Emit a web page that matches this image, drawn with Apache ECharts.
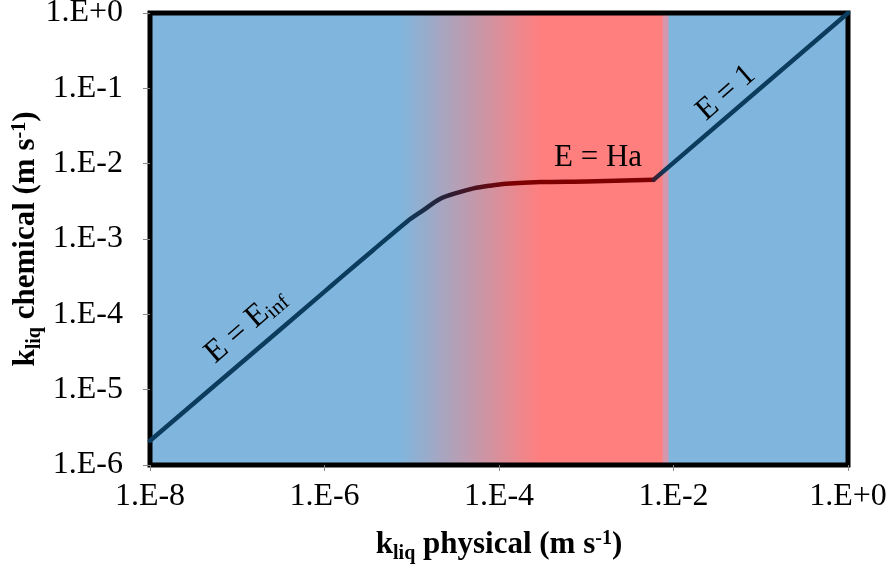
<!DOCTYPE html>
<html>
<head>
<meta charset="utf-8">
<script src="https://cdn.jsdelivr.net/npm/echarts@6/dist/echarts.min.js"></script>
<style>html,body{margin:0;padding:0;background:#fff}#c{width:888px;height:569px}</style>
</head>
<body>
<div id="c"></div>
<script>
// ---- data ----
const kPhysical = [1e-8, 1e-7, 1e-6, 1.5e-6, 3.6e-6, 8.8e-6, 1.35e-5, 2.1e-5, 3.3e-5, 5.1e-5, 7.9e-5, 1.2e-4, 3e-4, 1e-3, 5.9e-3, 1];
const kChemical = [2.1e-6, 2.05e-5, 2.0e-4, 3.0e-4, 7.1e-4, 1.7e-3, 2.4e-3, 3.4e-3, 4.1e-3, 4.7e-3, 5.1e-3, 5.4e-3, 5.7e-3, 5.8e-3, 6.1e-3, 1];
const cornerIndex = 14; // E = Ha plateau ends, E = 1 begins
const xTicks = ['1.E-8', '1.E-6', '1.E-4', '1.E-2', '1.E+0'];
const yTicks = ['1.E-6', '1.E-5', '1.E-4', '1.E-3', '1.E-2', '1.E-1', '1.E+0'];
const regionLabels = ['E = E', 'E = Ha', 'E = 1'];
// background regime boundaries (k_liq physical, m/s)
const blueEnd = 7.3e-6, redStart = 2.95e-4, redEnd = 7.2e-3, blueStart = 8.6e-3;

const X_MIN = 1e-8, X_MAX = 1, Y_MIN = 1e-6, Y_MAX = 1;
const L = Math.log10;
const fracIn = (v, a, b) => (L(v) - L(a)) / (L(b) - L(a));
const frac = v => fracIn(v, X_MIN, X_MAX);

const BLUE = '#80B6DD', RED = '#FF7F7F', NAVY = '#0b3c5e', MAROON = '#7f0000';
const serif = '"Liberation Serif", "Times New Roman", serif';

const bg = new echarts.graphic.LinearGradient(0, 0, 1, 0, [
  {offset: 0, color: BLUE},
  {offset: frac(blueEnd), color: BLUE},
  {offset: frac(redStart), color: RED},
  {offset: frac(redEnd), color: RED},
  {offset: frac(redEnd) + 0.0015, color: '#D497AE'},
  {offset: frac(blueStart) - 0.0015, color: '#D497AE'},
  {offset: frac(blueStart), color: BLUE},
  {offset: 1, color: BLUE}
]);
const xc = kPhysical[cornerIndex];
const gradA = new echarts.graphic.LinearGradient(0, 0, 1, 0, [
  {offset: 0, color: NAVY},
  {offset: fracIn(blueEnd, X_MIN, xc), color: NAVY},
  {offset: fracIn(2.6e-5, X_MIN, xc), color: '#2b1e33'},
  {offset: fracIn(1.4e-4, X_MIN, xc), color: MAROON},
  {offset: 1, color: MAROON}
]);
const gradB = new echarts.graphic.LinearGradient(0, 0, 1, 0, [
  {offset: 0, color: '#4a1525'},
  {offset: fracIn(blueStart, xc, X_MAX), color: NAVY},
  {offset: 1, color: NAVY}
]);

const fmt = v => {
  const e = Math.round(Math.log10(v));
  return e >= 0 ? '1.E+' + e : '1.E' + e;
};
const titleRich = {
  b: {fontFamily: serif, fontSize: 31, fontWeight: 'bold', color: '#000', lineHeight: 40},
  sub: {fontFamily: serif, fontSize: 20, fontWeight: 'bold', color: '#000', lineHeight: 40, padding: [18, 0, 0, 0]},
  sup: {fontFamily: serif, fontSize: 20, fontWeight: 'bold', color: '#000', lineHeight: 40, padding: [0, 0, 12, 0]}
};

const pairs = kPhysical.map((x, i) => [x, kChemical[i]]);
const chart = echarts.init(document.getElementById('c'), null, {renderer: 'canvas'});
chart.setOption({
  animation: false,
  grid: {left: 150, top: 13, width: 698, height: 452, containLabel: false, outerBoundsMode: 'none',
    show: true, backgroundColor: bg, borderColor: '#000', borderWidth: 5, z: 0},
  xAxis: {
    type: 'log', logBase: 10, min: X_MIN, max: X_MAX, interval: 2,
    axisLine: {show: false},
    axisTick: {show: true, length: 6, lineStyle: {color: '#888', width: 1}},
    splitLine: {show: false},
    axisLabel: {formatter: fmt, fontFamily: serif, fontSize: 32, color: '#000', margin: 16},
    name: '{b|k}{sub|liq}{b| physical (m s}{sup|-1}{b|)}',
    nameLocation: 'middle', nameGap: 60,
    nameTextStyle: {rich: titleRich}
  },
  yAxis: {
    type: 'log', logBase: 10, min: Y_MIN, max: Y_MAX, interval: 1,
    axisLine: {show: false},
    axisTick: {show: true, length: 7, lineStyle: {color: '#888', width: 1}},
    splitLine: {show: false},
    axisLabel: {formatter: fmt, fontFamily: serif, fontSize: 32, color: '#000', margin: 27},
    name: '{b|k}{sub|liq}{b| chemical (m s}{sup|-1}{b|)}',
    nameLocation: 'middle', nameGap: 104, nameRotate: 90, nameMoveOverlap: false,
    nameTextStyle: {rich: titleRich}
  },
  series: [{
    type: 'line',
    data: pairs.slice(0, cornerIndex + 1),
    showSymbol: false, symbol: 'none', smooth: 0.3,
    lineStyle: {width: 4.5, color: gradA, cap: 'round', join: 'round'},
    z: 3
  }, {
    type: 'line',
    data: pairs.slice(cornerIndex),
    showSymbol: false, symbol: 'none', smooth: false,
    lineStyle: {width: 4.5, color: gradB, cap: 'round', join: 'round'},
    z: 3
  }]
});

const ang = 41 * Math.PI / 180;
const txtStyle = {fontFamily: serif, fontSize: 31, fill: '#000'};
chart.setOption({
  graphic: [
    {type: 'text', x: 246, y: 326, rotation: ang, z: 10,
      style: {text: '{m|' + regionLabels[0] + '}{s|inf}', align: 'center', verticalAlign: 'middle',
        rich: {m: {fontFamily: serif, fontSize: 32, fill: '#000', lineHeight: 36}, s: {fontFamily: serif, fontSize: 21, fill: '#000', lineHeight: 36, padding: [14, 0, 0, 0]}}}},
    {type: 'text', x: 598, y: 158, z: 10,
      style: Object.assign({text: regionLabels[1], align: 'center', verticalAlign: 'middle'}, txtStyle)},
    {type: 'text', x: 726, y: 93, rotation: ang, z: 10,
      style: Object.assign({text: regionLabels[2], align: 'center', verticalAlign: 'middle'}, txtStyle)}
  ]
});
</script>
</body>
</html>
